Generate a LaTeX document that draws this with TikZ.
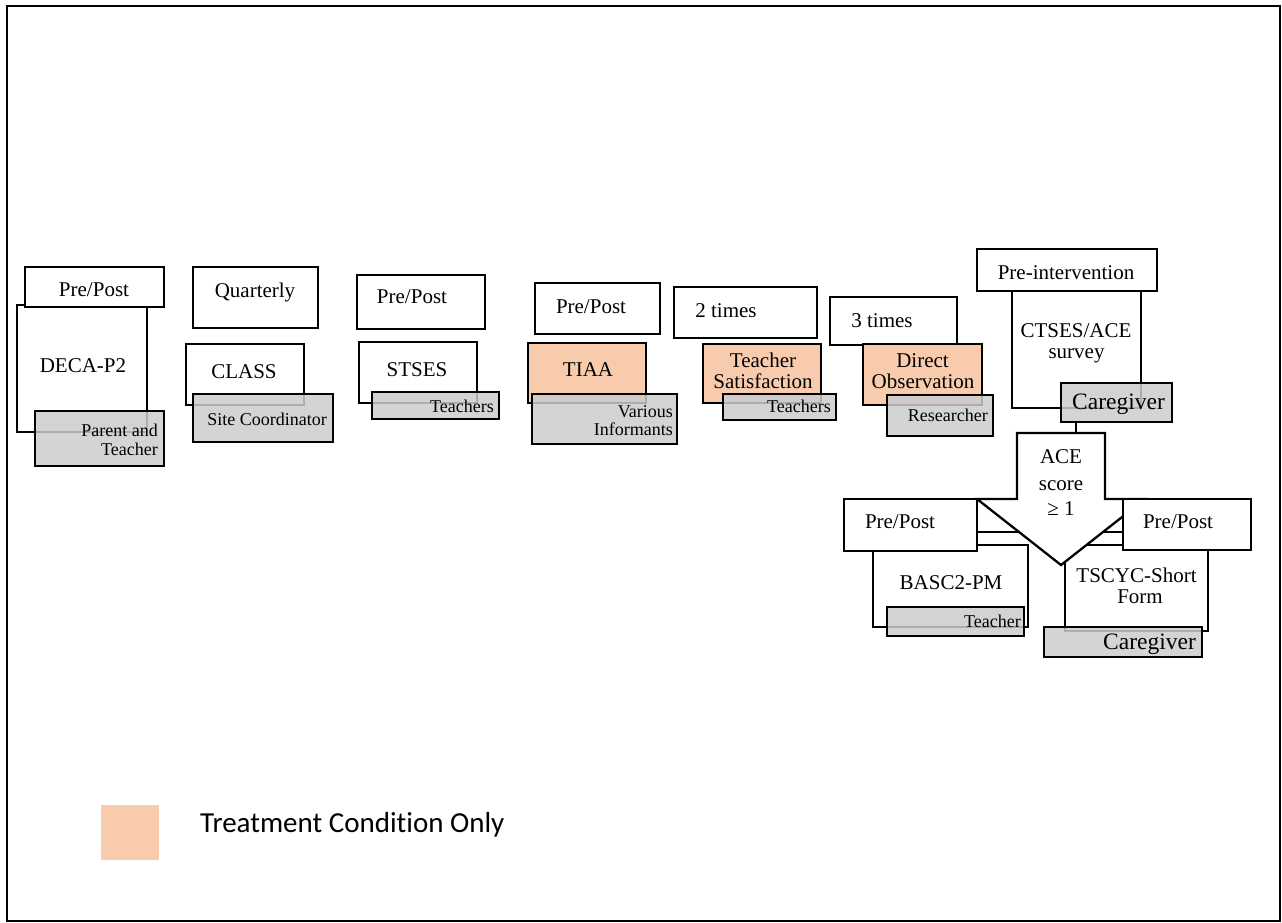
\documentclass[tikz,border=0pt]{standalone}
\usepackage{fontspec}
\setmainfont{Liberation Serif}
\newfontfamily\legendfont[Ligatures=NoCommon]{Carlito}
\usepackage{tikz}
\definecolor{treat}{RGB}{248,203,173}
\definecolor{inform}{RGB}{204,204,204}

\begin{document}
\begin{tikzpicture}[x=1pt,y=-1pt,
    box/.style={draw, line width=2.3pt, fill=white, inner sep=0pt, line join=miter},
    treatbox/.style={box, fill=treat},
    infobox/.style={box, fill=inform, fill opacity=0.85},
    lbl/.style={inner sep=0pt, anchor=base, font=\fontsize{21}{24}\selectfont},
    ilbl/.style={inner sep=0pt, anchor=base east, font=\fontsize{18}{21}\selectfont},
    cglbl/.style={inner sep=0pt, anchor=base east, font=\fontsize{23.5}{27}\selectfont}]
    \useasboundingbox (0,0) rectangle (1282,922);
    \draw[line width=1.6pt] (7,6) rectangle (1280,921);

    % DECA-P2
    \node[box, minimum width=130, minimum height=127] (deca) at (82,368.5) {};
    \node[box, minimum width=139, minimum height=40] (ppA) at (94.5,287) {};
    \node[infobox, minimum width=129, minimum height=55] (giA) at (99.5,438.5) {};
    \node[lbl] (tppA) at (94,296) {Pre/Post};
    \node[lbl] (tdeca) at (83,372) {DECA-P2};
    \node[ilbl] (tgiA1) at (158,436) {Parent and};
    \node[ilbl] (tgiA2) at (158,455) {Teacher};

    % CLASS
    \node[box, minimum width=125, minimum height=61] (qtr) at (255.5,297.5) {};
    \node[box, minimum width=118, minimum height=61] (class) at (245,374.5) {};
    \node[infobox, minimum width=140, minimum height=48] (giB) at (263,418) {};
    \node[lbl] (tqtr) at (255,297) {Quarterly};
    \node[lbl] (tclass) at (244,378) {CLASS};
    \node[ilbl] (tgiB) at (327,425) {Site Coordinator};

    % STSES
    \node[box, minimum width=128, minimum height=54] (ppC) at (421,302) {};
    \node[box, minimum width=118, minimum height=61] (stses) at (418,372.5) {};
    \node[infobox, minimum width=127, minimum height=27] (giC) at (435.5,405.5) {};
    \node[lbl] (tppC) at (412,303) {Pre/Post};
    \node[lbl] (tstses) at (417,376) {STSES};
    \node[ilbl] (tgiC) at (494,412) {Teachers};

    % TIAA
    \node[box, minimum width=125, minimum height=51] (ppD) at (597.5,308.5) {};
    \node[treatbox, minimum width=118, minimum height=60] (tiaa) at (587,373) {};
    \node[infobox, minimum width=145, minimum height=50] (giD) at (604.5,419) {};
    \node[lbl] (tppD) at (591,313) {Pre/Post};
    \node[lbl] (ttiaa) at (588,376) {TIAA};
    \node[ilbl] (tgiD1) at (673,417) {Various};
    \node[ilbl] (tgiD2) at (673,435) {Informants};

    % Teacher Satisfaction
    \node[box, minimum width=143, minimum height=51] (ppE) at (745.5,312.5) {};
    \node[treatbox, minimum width=118, minimum height=59] (tsat) at (762,373.5) {};
    \node[infobox, minimum width=113, minimum height=26] (giE) at (779.5,407) {};
    \node[lbl] (tppE) at (726,317) {2 times};
    \node[lbl] (ttsat1) at (763,367) {Teacher};
    \node[lbl] (ttsat2) at (763,388) {Satisfaction};
    \node[ilbl] (tgiE) at (831,412) {Teachers};

    % Direct Observation
    \node[box, minimum width=127, minimum height=48] (ppF) at (893.5,321) {};
    \node[treatbox, minimum width=119, minimum height=61] (dobs) at (922.5,374.5) {};
    \node[infobox, minimum width=106, minimum height=41] (giF) at (940,415.5) {};
    \node[lbl] (tppF) at (882,327) {3 times};
    \node[lbl] (tdobs1) at (922.5,367) {Direct};
    \node[lbl] (tdobs2) at (923,388) {Observation};
    \node[ilbl] (tgiF) at (988,421) {Researcher};

    % CTSES/ACE survey
    \node[box, minimum width=129, minimum height=117] (ctses) at (1076.5,349.5) {};
    \node[box, minimum width=180, minimum height=42] (ppG) at (1067,270) {};
    \node[infobox, minimum width=111, minimum height=39] (giG) at (1116.5,402.5) {};
    \node[lbl] (tppG) at (1066,279) {Pre-intervention};
    \node[lbl] (tctses1) at (1076,337) {CTSES/ACE};
    \node[lbl] (tctses2) at (1076.5,358) {survey};
    \node[cglbl] (tgiG) at (1165,409) {Caregiver};

    % ACE score split
    \draw[line width=2.3pt] (977,532) -- (1123,532);
    \node[box, minimum width=155, minimum height=82] (basc) at (950.5,586) {};
    \node[box, minimum width=143, minimum height=86] (tscyc) at (1136.5,588) {};
    \coordinate (aceTop) at (1076,433);
    \draw[line width=2.3pt] (aceTop |- giG.south) -- (aceTop);
    \draw[box] (1017,433) -- (1105,433) -- (1105,499) -- (1145,499) -- (1061,565)
        -- (977,499) -- (1017,499) -- cycle;
    \node[lbl] (tace1) at (1061,463) {ACE};
    \node[lbl] (tace2) at (1061,490) {score};
    \node[lbl] (tace3) at (1061,515) {≥ 1};

    % BASC2-PM
    \node[box, minimum width=133, minimum height=52] (ppH) at (910.5,525) {};
    \node[infobox, minimum width=137, minimum height=29] (giH) at (955.5,621.5) {};
    \node[lbl] (tppH) at (900,528) {Pre/Post};
    \node[lbl] (tbasc) at (951,589) {BASC2-PM};
    \node[ilbl] (tgiH) at (1021,627) {Teacher};

    % TSCYC-Short Form
    \node[box, minimum width=128, minimum height=51] (ppI) at (1187,524.5) {};
    \node[infobox, minimum width=158, minimum height=30] (giI) at (1123,642) {};
    \node[lbl] (tppI) at (1178,528) {Pre/Post};
    \node[lbl] (ttscyc1) at (1136.5,582) {TSCYC-Short};
    \node[lbl] (ttscyc2) at (1140,603) {Form};
    \node[cglbl] (tgiI) at (1196,649) {Caregiver};

    % legend
    \node[fill=treat, minimum width=58, minimum height=55, inner sep=0pt] (key) at (130,832.5) {};
    \node[anchor=base west, inner sep=0pt, font=\legendfont\fontsize{29}{34}\selectfont] (tkey) at (200,832) {Treatment Condition Only};
\end{tikzpicture}
\end{document}
